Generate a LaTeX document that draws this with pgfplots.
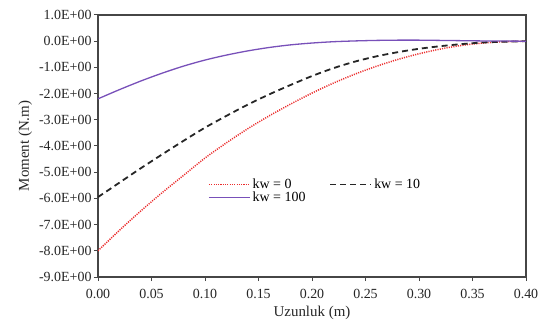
\documentclass[border=0pt]{standalone}
\usepackage{fontspec}
\setmainfont{Liberation Serif}
\usepackage{pgfplots}
\pgfplotsset{compat=1.18}
\definecolor{kwred}{RGB}{235,45,45}
\definecolor{kwpurple}{RGB}{120,80,185}
\definecolor{axgray}{RGB}{70,70,70}
\begin{document}
\begin{tikzpicture}
\useasboundingbox (-98bp,-48bp) rectangle (449bp,277bp);
\begin{axis}[
  at={(0,0)}, anchor=south west,
  scale only axis, width=428bp, height=262bp,
  xmin=0, xmax=0.4, ymin=-9, ymax=1,
  xtick={0,0.05,0.1,0.15,0.2,0.25,0.3,0.35,0.4},
  xticklabels={0.00,0.05,0.10,0.15,0.20,0.25,0.30,0.35,0.40},
  ytick={-9,-8,-7,-6,-5,-4,-3,-2,-1,0,1},
  yticklabels={-9.0E+00,-8.0E+00,-7.0E+00,-6.0E+00,-5.0E+00,-4.0E+00,-3.0E+00,-2.0E+00,-1.0E+00,0.0E+00,1.0E+00},
  tick align=outside, tick pos=left,
  major tick length=4bp,
  axis line style={axgray, line width=1.2pt},
  every tick/.style={axgray, line width=1pt},
  tick label style={font=\fontsize{14}{16}\selectfont, text=black!85},
  xticklabel style={yshift=-5bp},
  yticklabel style={xshift=1bp},
  xlabel={Uzunluk (m)}, ylabel={Moment (N.m)},
  label style={font=\fontsize{15}{17}\selectfont, text=black!85},
  xlabel style={at={(axis description cs:0.5,-0.137)}, anchor=center},
  ylabel style={at={(axis description cs:-0.170,0.5)}, anchor=center},
  legend columns=2,
  legend cell align=left,
  legend style={at={(axis description cs:0.25,0.39)}, anchor=north west, draw=none, fill=none,
    font=\fontsize{14}{15}\selectfont, row sep=-2bp,
    /tikz/every even column/.append style={column sep=22bp}},
  legend image code/.code={\draw[#1] (0bp,0bp) -- (41bp,0bp);},
]
\addplot[kwred, line width=1.5bp, dash pattern=on 1.1bp off 1.2bp, smooth] coordinates {
(0.00,-8.00) (0.02,-7.22) (0.04,-6.48) (0.06,-5.78) (0.08,-5.12) (0.10,-4.46)
(0.12,-3.88) (0.14,-3.34) (0.16,-2.85) (0.18,-2.40) (0.20,-1.98) (0.22,-1.60)
(0.24,-1.26) (0.26,-0.96) (0.28,-0.70) (0.30,-0.48) (0.32,-0.30) (0.34,-0.16)
(0.36,-0.07) (0.38,-0.02) (0.40,0.00)};
\addlegendentry{kw = 0}
\addplot[black!85, line width=1.8bp, dash pattern=on 6bp off 4bp, smooth] coordinates {
(0.00,-5.95) (0.02,-5.40) (0.04,-4.85) (0.06,-4.32) (0.08,-3.80) (0.10,-3.30)
(0.12,-2.85) (0.14,-2.42) (0.16,-2.03) (0.18,-1.67) (0.20,-1.33) (0.22,-1.03)
(0.24,-0.78) (0.26,-0.58) (0.28,-0.42) (0.30,-0.29) (0.32,-0.19) (0.34,-0.11)
(0.36,-0.05) (0.38,-0.02) (0.40,0.00)};
\addlegendentry{kw = 10}
\addplot[kwpurple, line width=1.3bp, smooth] coordinates {
(0.00,-2.20) (0.02,-1.85) (0.04,-1.52) (0.06,-1.22) (0.08,-0.95) (0.10,-0.72)
(0.12,-0.53) (0.14,-0.37) (0.16,-0.24) (0.18,-0.14) (0.20,-0.07) (0.22,-0.02)
(0.24,0.01) (0.26,0.03) (0.28,0.04) (0.30,0.04) (0.32,0.03) (0.34,0.02)
(0.36,0.01) (0.38,0.005) (0.40,0.00)};
\addlegendentry{kw = 100}
\end{axis}
\end{tikzpicture}
\end{document}
